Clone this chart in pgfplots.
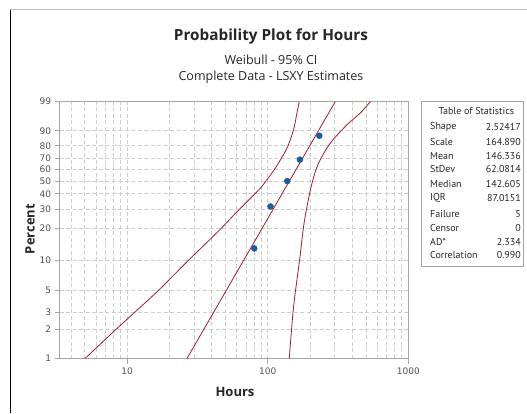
\documentclass[border=0pt]{standalone}
\usepackage{fontspec}
\setmainfont{Open Sans}
\newfontfamily\tickfont{DejaVu Sans}
\newfontfamily\tabfont{PT Sans}
\usepackage{pgfplots}
\pgfplotsset{compat=1.18}
\definecolor{curvered}{RGB}{160,30,40}
\definecolor{ptblue}{RGB}{30,90,160}
\definecolor{gridgray}{RGB}{205,205,205}
\definecolor{axgray}{RGB}{165,165,165}
\definecolor{ticktext}{RGB}{80,80,80}
\begin{document}
\begin{tikzpicture}[x=1pt,y=1pt]
\useasboundingbox (0,0) rectangle (527,413);
\draw[gray!50, line width=1pt] (10,403) -- (527,403);
\draw[black, line width=1pt] (10.5,403) -- (10.5,0);
\begin{axis}[
  at={(59.5pt,54.5pt)}, anchor=south west, scale only axis,
  width=348.8pt, height=256.8pt,
  xmode=log, xmin=3.3, xmax=1000,
  ymin=-4.6002, ymax=1.5272,
  xtick={10,100,1000}, xticklabels={10,100,1000},
  minor xtick={4,5,6,7,8,9,20,30,40,50,60,70,80,90,200,300,400,500,600,700,800,900},
  ytick={-4.6002,-3.9019,-3.4913,-2.9702,-2.2504,-1.4999,-1.0309,-0.6717,-0.3665,-0.0874,0.1856,0.4759,0.8340,1.5272},
  yticklabels={1,2,3,5,10,20,30,40,50,60,70,80,90,99},
  grid=both,
  major grid style={dash pattern=on 4pt off 2.5pt, gridgray, line width=0.8pt},
  minor grid style={dash pattern=on 4pt off 2.5pt, gridgray, line width=0.8pt},
  axis line style={axgray, line width=1.3pt},
  tick style={axgray, line width=0.8pt},
  tick align=outside, xtick pos=bottom, ytick pos=left,
  major tick length=5pt, minor tick length=0pt,
  ticklabel style={font=\tickfont\fontsize{9}{10}\selectfont, text=ticktext},
  xticklabel style={yshift=-1pt},
  y filter/.expression={ln(-ln(1-y/100))},
]
\addplot[curvered, line width=0.8pt] coordinates {(26.65,1) (301.97,99)};
\addplot[curvered, line width=0.8pt, smooth, tension=0.4] coordinates {
 (5.02,1) (8.45,2.03) (16.27,4.80) (26.6,9.59) (45.4,19.37) (60.4,28.35)
 (88.4,44.2) (113.1,61.01) (137.0,78.14) (152.6,90.52) (163.0,97.77) (167.6,99)};
\addplot[curvered, line width=0.8pt, smooth, tension=0.5] coordinates {
 (142.3,1) (152.6,3.37) (168.4,9.96) (179.8,20.77) (190.1,31.33) (206.4,48.21)
 (229.9,65.42) (278.5,81.98) (366.2,92.97) (455.3,97.02) (536.4,99)};
\addplot[only marks, mark=*, mark size=3pt, mark options={draw=ptblue, fill=ptblue}]
 coordinates {(80.2,12.96) (104.7,31.48) (137.7,50) (169.4,68.52) (232.8,87.04)};
\end{axis}
% titles
\node[font=\bfseries\fontsize{15.3}{18}\selectfont, text=black!85] at (271,376.3) {Probability Plot for Hours};
\node[font=\fontsize{12.5}{14}\selectfont, text=black!85] at (271,353) {Weibull - 95\% CI};
\node[font=\fontsize{12.5}{14}\selectfont, text=black!85] at (271,336) {Complete Data - LSXY Estimates};
\node[font=\bfseries\fontsize{13}{15}\selectfont, text=black!85, rotate=90] at (30,184) {Percent};
\node[font=\bfseries\fontsize{13}{15}\selectfont, text=black!85] at (235,21) {Hours};
% table of statistics
\draw[axgray, line width=0.7pt] (421.5,311.3) rectangle (523.5,147);
\node[font=\tabfont\fontsize{10}{12}\selectfont, text=black!85, inner sep=0pt] at (476.3,302) {Table of Statistics};
\foreach \lab/\val/\yy in {Shape/2.52417/127.3, Scale/164.890/141.7, Mean/146.336/156, StDev/62.0814/169, Median/142.605/184.3, IQR/87.0151/197.7, Failure/5/214.3, Censor/0/228.3, AD*/2.334/241.7, Correlation/0.990/255}{
  \node[font=\tabfont\fontsize{10}{12}\selectfont, text=black!85, inner sep=0pt, anchor=west] at (430,413-\yy) {\lab};
  \node[font=\tabfont\fontsize{10}{12}\selectfont, text=black!85, inner sep=0pt, anchor=east] at (521,413-\yy) {\val};
}
\end{tikzpicture}
\end{document}
